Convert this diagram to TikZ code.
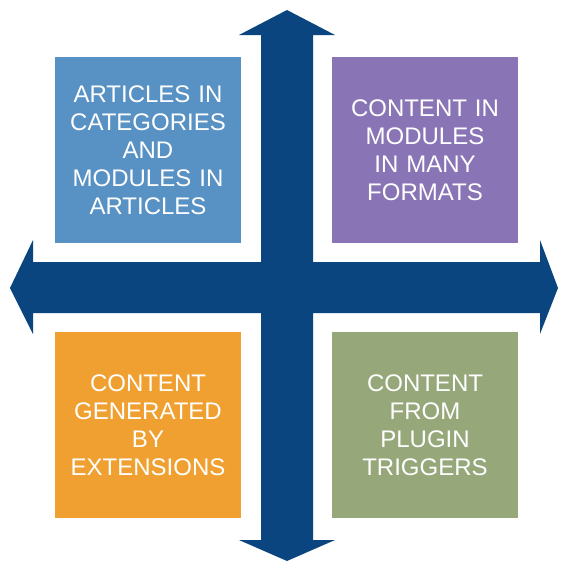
\documentclass[tikz,border=0pt]{standalone}
\usepackage{fontspec}
\setmainfont{Liberation Sans}
\usetikzlibrary{positioning}
\definecolor{arrowblue}{RGB}{11,69,128}
\definecolor{boxblue}{RGB}{88,145,195}
\definecolor{boxpurple}{RGB}{137,117,181}
\definecolor{boxorange}{RGB}{240,160,48}
\definecolor{boxgreen}{RGB}{150,167,122}
\tikzset{quadbox/.style={minimum width=186pt,minimum height=186pt,inner sep=0pt,text width=180pt,align=center,text=white,font=\fontsize{24}{28}\selectfont}}

\begin{document}
\begin{tikzpicture}[x=1pt,y=-1pt,line join=miter]
\useasboundingbox (0,0) rectangle (562,563);
\fill [arrowblue] (287,10) -- (335,35) -- (313,35) -- (313,262) -- (540,262) -- (540,240)
  -- (558,288) -- (540,334) -- (540,313) -- (313,313) -- (313,540) -- (335,540)
  -- (287,561) -- (239,540) -- (261,540) -- (261,313) -- (33,313) -- (33,334)
  -- (10,288) -- (33,240) -- (33,262) -- (261,262) -- (261,35) -- (239,35) -- cycle;
\node [quadbox,fill=boxblue] (articles) at (148,150) {ARTICLES IN\\CATEGORIES\\AND\\MODULES IN\\ARTICLES};
\node [quadbox,fill=boxpurple] (modules) at (425,150) {CONTENT IN\\MODULES\\IN MANY\\FORMATS};
\node [quadbox,fill=boxorange] (extensions) at (148,425) {CONTENT\\GENERATED\\BY\\EXTENSIONS};
\node [quadbox,fill=boxgreen] (plugins) at (425,425) {CONTENT\\FROM\\PLUGIN\\TRIGGERS};
\end{tikzpicture}
\end{document}
